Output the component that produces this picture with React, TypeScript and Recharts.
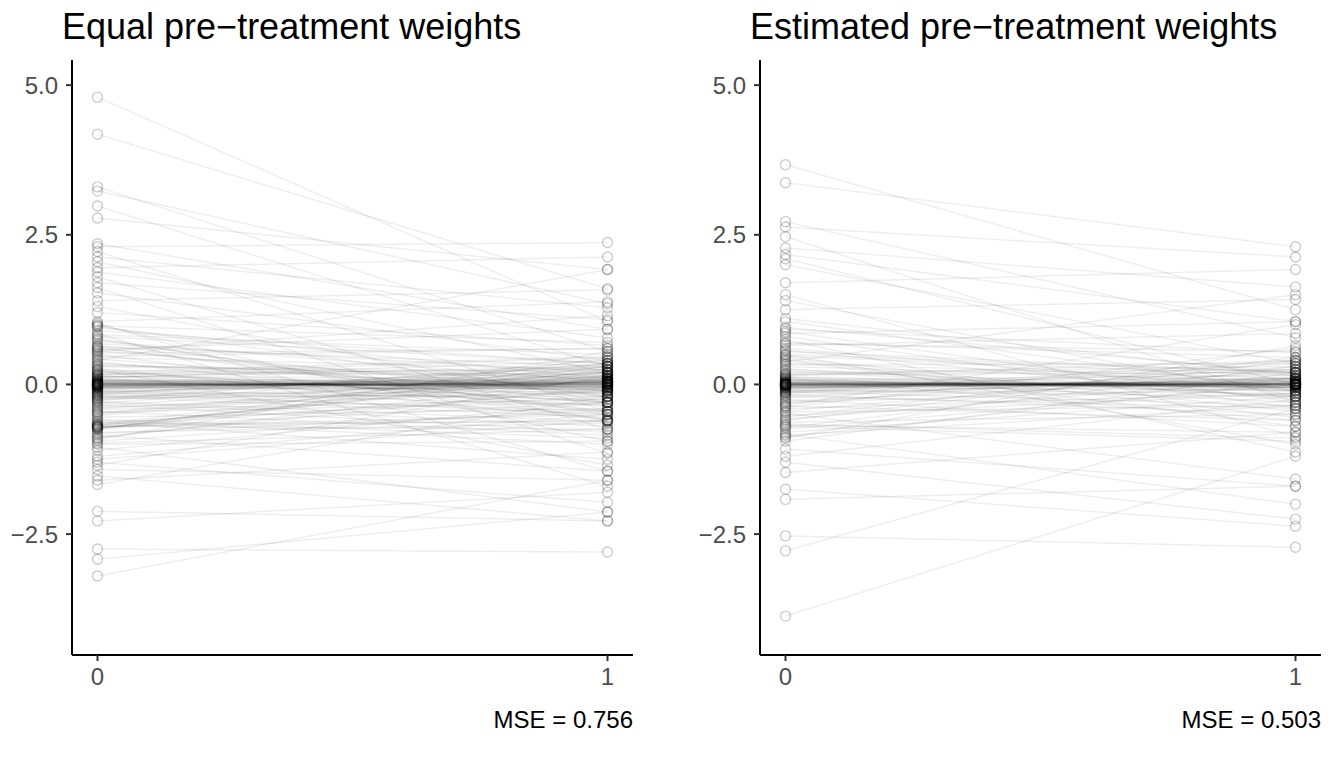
import React from "react";
import { LineChart, Line, XAxis, YAxis } from "recharts";

// values at time 0 and time 1, one entry per unit (same index = same unit)
const equalPre = [
  4.8, 4.18, 3.3, 3.23, 2.98, 2.78, 2.35, 2.3, 2.22, 2.13,
  2.05, 1.95, 1.88, 1.8, 1.7, 1.62, 1.53, 1.4, 1.3, 1.2,
  1.05, 1.0, 0.95, 0.85, 0.8, 0.72, 0.65, 0.58, 0.5, 0.45,
  0.4, 0.35, 0.3, 0.25, 0.2, 0.15, 0.12, 0.1, 0.08, 0.05,
  0.0, -0.01, 0.02, 0.0, -0.03, 0.01, 0.0, -0.02, 0.03, 0.0,
  -0.01, 0.02, 0.0, 0.01, -0.04, 0.0, 0.05, -0.05, 0.02, -0.02,
  -0.06, -0.08, -0.1, -0.14, -0.18, -0.22, -0.28, -0.32, -0.38, -0.45,
  -0.5, -0.55, -0.62, -0.68, -0.7, -0.72, -0.75, -0.85, -0.92, -1.0,
  -1.05, -1.2, -1.3, -1.35, -1.42, -1.53, -1.6, -1.67, -2.12, -2.28,
  -2.75, -2.92, -3.2, 0.98, 0.62, -0.66, -0.74, 1.02, 0.55,
  0.9, 0.75, 0.68, 0.6, 0.52, 0.42, 0.33, 0.27, 0.18, 0.14,
  0.11, 0.07, -0.07, -0.11, -0.15, -0.2, -0.26, -0.3, -0.36, -0.42,
  -0.48, -0.58, -0.64, -0.69, -0.71, -0.73, -0.8, -0.88, -0.95, 0.06,
  -0.09, 0.09, -0.12, 0.13, -0.16, 0.17, -0.19, 0.21, -0.24, 0.24,
  0.97, 0.83, 0.77, 0.63, 0.56, 0.47, 0.38, 0.31, 0.23, 0.16,
  -0.04, -0.13, -0.17, -0.23, -0.27, -0.34, -0.4, -0.46, -0.52, -0.6,
  -0.67, -0.7, -0.71, -0.76, -0.82, -0.9, -0.98, -1.1, -1.25, 0.04,
  0.03, -0.03, 0.06, -0.06, 0.07, -0.05, 0.04, -0.04, 0.02, -0.02,
];
const equalPost = [
  1.05, 1.6, 0.55, 1.35, 0.3, 1.92, 0.92, 2.37, -0.45, 1.28,
  0.2, 2.13, 0.78, -0.75, 1.08, -1.15, 0.4, 1.58, -0.3, 0.65,
  1.38, -0.95, 0.1, -1.7, 0.35, 0.05, -0.2, 0.92, -0.58, 0.25,
  1.92, -0.1, 0.15, -1.35, 0.47, -0.05, 0.3, -0.35, 0.08, -0.15,
  0.01, 0.0, -0.01, -0.02, 0.02, 0.03, 0.0, -0.01, 0.0, 0.02,
  -0.03, 0.02, -0.01, 0.0, 0.01, 0.0, 0.04, -0.04, -0.03, 0.03,
  -0.08, 0.12, -0.25, 0.2, -0.45, 0.05, -0.62, 0.35, -0.12, -0.85,
  0.22, -0.4, -1.25, 0.1, -0.75, -0.3, 0.45, -1.45, 0.55, -0.95,
  -2.13, -0.5, -1.97, 0.15, -1.6, -2.28, -1.13, -0.2, -2.28, -1.8,
  -2.8, -2.13, -1.6, 0.7, -0.45, -0.62, 0.3, -1.45, 1.15,
  0.35, -0.5, 0.2, -0.3, 0.6, -0.15, 0.1, -0.6, 0.25, -0.2,
  0.4, -0.1, 0.15, -0.35, 0.3, -0.55, 0.05, -0.7, 0.2, -0.25,
  0.3, -0.9, -0.2, 0.15, -0.5, 0.25, -0.65, -0.05, -0.4, 0.05,
  -0.05, -0.1, 0.08, 0.1, -0.12, 0.18, -0.2, -0.3, 0.35, 0.12,
  -0.2, 0.5, -0.6, 0.3, -0.1, 0.6, -0.45, 0.2, -0.3, 0.45,
  0.1, -0.5, 0.25, -0.15, 0.4, -0.8, 0.05, -0.3, 0.15, -1.0,
  0.35, -0.6, -0.1, 0.2, -0.45, 0.1, -0.75, -0.3, -0.6, 0.06,
  -0.04, 0.05, -0.06, 0.04, 0.07, -0.07, 0.03, 0.05, -0.05, 0.06,
];

const estPre = [
  3.67, 3.37, 2.72, 2.63, 2.47, 2.28, 2.17, 2.0, 1.7, 1.5,
  1.25, 1.1, 0.92, 0.75, 0.65, 0.55, 0.45, 0.38, 0.3, 0.22,
  0.15, 0.1, 0.06, 0.03,
  0.0, 0.01, -0.01, 0.02, 0.0, -0.02, 0.0, 0.03, -0.03, 0.0,
  0.01, -0.01, 0.0, 0.02, -0.02, 0.0, 0.04, -0.04, 0.0, 0.01,
  -0.01, 0.0, 0.02, -0.02,
  -0.05, -0.08, -0.12, -0.18, -0.25, -0.32, -0.4, -0.48, -0.55, -0.63,
  -0.83, -0.9, -1.08, -1.2, -1.3, -1.47, -1.75, -1.92, -2.53, -2.78,
  -3.87, 1.05, 0.85, -0.7, 0.5, -0.35, 2.1, 1.4,
  0.88, 0.7, 0.6, 0.5, 0.42, 0.35, 0.26, 0.19, 0.13, 0.08,
  -0.06, -0.1, -0.15, -0.2, -0.28, -0.36, -0.44, -0.52, -0.6, -0.68,
  -0.75, -0.85, -0.95, 0.05, -0.07, 0.09, -0.11, 0.12, -0.14, 0.16,
  0.95, 0.8, 0.68, 0.57, 0.47, 0.4, 0.33, 0.24, 0.17, 0.11,
  -0.04, -0.09, -0.13, -0.17, -0.22, -0.3, -0.38, -0.46, -0.58, -0.66,
  -0.72, -0.8, -0.88, 0.04, -0.03, 0.06, -0.06, 0.07, -0.05, 0.03,
];
const estPost = [
  1.25, 2.3, 0.78, 2.13, -0.3, 1.63, 1.05, 0.35, 1.92, -0.87,
  1.42, 0.15, 0.53, -1.13, 0.85, 0.2, -0.45, 1.5, 0.05, -0.2,
  0.4, -0.6, 0.1, -0.05,
  0.0, 0.02, 0.0, -0.01, 0.01, 0.0, -0.02, 0.01, 0.0, 0.02,
  -0.01, 0.0, 0.03, 0.0, -0.03, 0.01, 0.02, -0.02, 0.0, -0.01,
  0.0, 0.01, 0.0, -0.01,
  -0.1, 0.25, -0.35, 0.12, -0.7, 0.3, -0.15, -1.58, 0.45, -0.5,
  -2.0, 0.65, -1.7, -0.25, -2.25, -0.8, -2.37, -1.7, -2.72, -0.4,
  -1.2, -0.1, 1.05, -0.95, -1.0, 1.0, 0.0, -0.2,
  -0.3, 0.45, -0.1, 0.2, -0.55, 0.1, -0.2, 0.3, -0.05, 0.15,
  0.05, -0.2, 0.35, -0.4, 0.1, -0.6, 0.25, -0.15, 0.4, -0.8,
  0.0, -0.35, 0.2, -0.05, 0.08, -0.12, 0.1, -0.1, 0.05, 0.2,
  0.2, -0.4, 0.55, -0.25, 0.15, -0.7, 0.35, -0.1, 0.25, -0.3,
  0.1, -0.15, 0.4, -0.5, 0.2, -0.05, 0.6, -0.35, 0.1, -0.9,
  0.3, -0.2, 0.05, -0.05, 0.06, -0.04, 0.05, -0.06, 0.07, 0.03,
];

const yTicks = [-2.5, 0, 2.5, 5];
const xTicks = [0, 1];

const FONT = "'Liberation Sans', Arial, Helvetica, sans-serif";

const fmtY = (v: number) => (v < 0 ? "\u2212" + Math.abs(v).toFixed(1) : v.toFixed(1));

function Panel({
  pre,
  post,
  title,
  mse,
  left,
}: {
  pre: number[];
  post: number[];
  title: string;
  mse: string;
  left: number;
}) {
  const units = pre.map((a, i) => [
    { x: 0, y: a },
    { x: 1, y: post[i] },
  ]);
  return (
    <div style={{ position: "absolute", left, top: 0, width: 660, height: 765 }}>
      <div
        style={{
          position: "absolute",
          left: 62,
          top: 9,
          fontSize: 36,
          lineHeight: "36px",
          fontFamily: FONT,
          color: "#000",
          whiteSpace: "nowrap",
        }}
      >
        {title}
      </div>
      <LineChart width={660} height={765} margin={{ top: 60, right: 27, bottom: 70, left: 14 }}>
        <XAxis
          dataKey="x"
          type="number"
          domain={[-0.05, 1.05]}
          ticks={xTicks}
          allowDataOverflow
          height={40}
          axisLine={{ stroke: "#000", strokeWidth: 2 }}
          tickLine={{ stroke: "#333", strokeWidth: 2 }}
          tickSize={6}
          tickMargin={7}
          tick={{ fill: "#4d4d4d", fontSize: 24, fontFamily: FONT }}
        />
        <YAxis
          type="number"
          domain={[-4.52, 5.42]}
          ticks={yTicks}
          allowDataOverflow
          width={58}
          axisLine={{ stroke: "#000", strokeWidth: 2 }}
          tickLine={{ stroke: "#333", strokeWidth: 2 }}
          tickSize={6}
          tickMargin={8}
          tickFormatter={fmtY}
          tick={{ fill: "#4d4d4d", fontSize: 24, fontFamily: FONT }}
        />
        {units.map((d, i) => (
          <Line
            key={i}
            data={d}
            dataKey="y"
            type="linear"
            stroke="#000"
            strokeOpacity={0.065}
            strokeWidth={1.5}
            dot={{ r: 5, fill: "none", stroke: "#000", strokeOpacity: 0.2, strokeWidth: 1.4 }}
            activeDot={false}
            isAnimationActive={false}
          />
        ))}
      </LineChart>
      <div
        style={{
          position: "absolute",
          right: 27,
          top: 708,
          fontSize: 24,
          lineHeight: "24px",
          fontFamily: FONT,
          color: "#000",
          whiteSpace: "nowrap",
        }}
      >
        {mse}
      </div>
    </div>
  );
}

export default function App() {
  return (
    <div style={{ position: "absolute", left: 0, top: 0, width: 1335, height: 765, background: "#fff" }}>
      <Panel pre={equalPre} post={equalPost} title={"Equal pre\u2212treatment weights"} mse="MSE = 0.756" left={0} />
      <Panel pre={estPre} post={estPost} title={"Estimated pre\u2212treatment weights"} mse="MSE = 0.503" left={688} />
    </div>
  );
}
